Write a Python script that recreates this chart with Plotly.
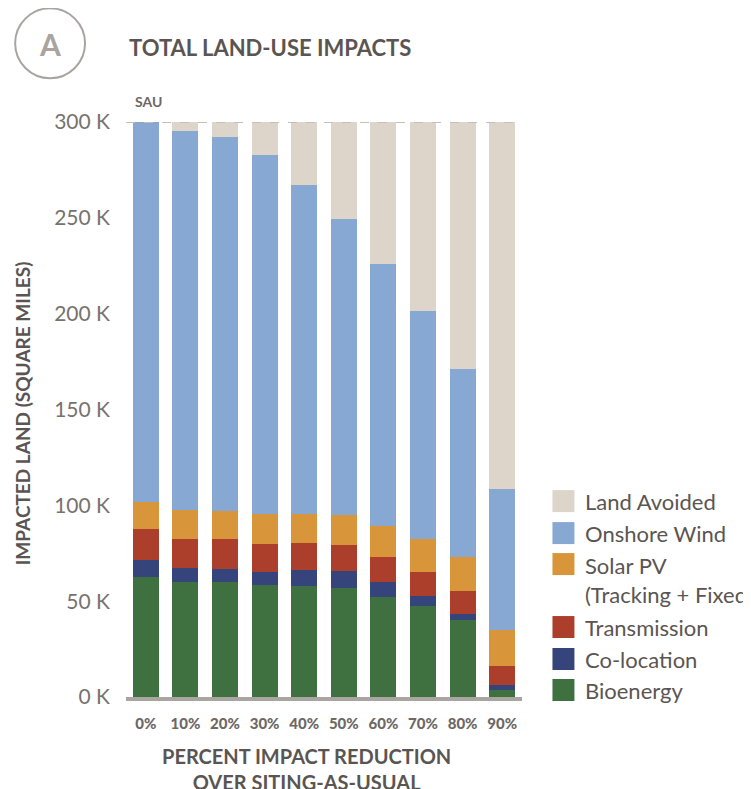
import plotly.graph_objects as go

categories = ["0%", "10%", "20%", "30%", "40%", "50%", "60%", "70%", "80%", "90%"]
bioenergy = [62.4, 60.1, 60.1, 58.4, 57.9, 56.7, 52.3, 47.4, 40.1, 3.6]
colocation = [9.0, 7.3, 6.6, 6.8, 8.5, 9.0, 7.7, 5.3, 3.3, 2.5]
transmission = [16.0, 15.1, 15.5, 14.6, 14.0, 13.7, 13.1, 12.5, 12.0, 10.1]
solar_pv = [14.1, 15.0, 14.8, 15.6, 15.0, 15.3, 16.1, 17.0, 17.7, 18.7]
onshore_wind = [198.5, 197.8, 195.3, 187.3, 171.5, 154.5, 136.9, 119.0, 97.9, 73.5]
total_sau = 300
land_avoided = [round(total_sau - (b + c + t + s + w), 1) for b, c, t, s, w in
                zip(bioenergy, colocation, transmission, solar_pv, onshore_wind)]

series_names = ["Bioenergy", "Co-location", "Transmission", "Solar PV", "Onshore Wind", "Land Avoided"]
series_values = [bioenergy, colocation, transmission, solar_pv, onshore_wind, land_avoided]
series_colors = ["#3e7040", "#35447a", "#ab3f2c", "#d9953a", "#86a8d3", "#ddd5ca"]
legend_labels = ["Land Avoided", "Onshore Wind", "Solar PV<br>(Tracking + Fixed)", "Transmission", "Co-location", "Bioenergy"]
legend_colors = ["#ddd5ca", "#86a8d3", "#d9953a", "#ab3f2c", "#35447a", "#3e7040"]

y_tickvals = [0, 50, 100, 150, 200, 250, 300]
y_ticktext = ["0 K", "50 K", "100 K", "150 K", "200 K", "250 K", "300 K"]

W, H = 751, 789
OFF = 8  # page body margin
L, R, T, B = 126, 522.5, 121.7, 697.0  # plot area in screen pixels

def xp(px):
    return (px - L) / (R - L)

def yp(py):
    return (B - py) / (B - T)

FONT = "Lato"
fig = go.Figure()
for name, vals, col in zip(series_names, series_values, series_colors):
    fig.add_trace(go.Bar(x=categories, y=vals, name=name, marker=dict(color=col, line=dict(width=0)),
                         showlegend=False))

fig.update_layout(
    barmode="stack", bargap=0.34,
    width=W, height=H, autosize=False,
    margin=dict(l=L - OFF, r=W - (R - OFF), t=T - OFF, b=H - (B - OFF), pad=0),
    plot_bgcolor="white", paper_bgcolor="white",
    font=dict(family=FONT, color="#6d6865"),
    xaxis=dict(showgrid=False, zeroline=False, showline=True, linecolor="#a9a6a2", linewidth=4,
               ticks="", tickfont=dict(size=15, color="#6d6865", family=FONT + " Black"),
               ticklabelstandoff=10),
    yaxis=dict(range=[0, 300], showgrid=False, zeroline=False, showline=False,
               tickvals=y_tickvals, ticktext=y_ticktext, tickfont=dict(size=21, color="#77726e"),
               ticklabelstandoff=15),
)

# dashed SAU reference line
fig.add_shape(type="line", xref="paper", yref="y", x0=0, x1=1, y0=total_sau, y1=total_sau,
              line=dict(color="#c4bfb7", width=2, dash="dash"), layer="above")

anns = []
anns.append(dict(text="<b>SAU</b>", x=xp(133), y=yp(101), xanchor="left", yanchor="middle",
                 font=dict(size=14, color="#6d6865")))
anns.append(dict(text="<b>TOTAL LAND-USE IMPACTS</b>", x=xp(127), y=yp(47), xanchor="left", yanchor="middle",
                 font=dict(size=22, color="#5a5552")))
anns.append(dict(text="<b>A</b>", x=xp(50), y=yp(44), xanchor="center", yanchor="middle",
                 font=dict(size=30, color="#a8a4a0")))
anns.append(dict(text="<b>IMPACTED LAND (SQUARE MILES)</b>", x=xp(22), y=yp(413), textangle=-90,
                 xanchor="center", yanchor="middle", font=dict(size=19, color="#5a5552")))
anns.append(dict(text="<b>PERCENT IMPACT REDUCTION<br>OVER SITING-AS-USUAL</b>", x=xp(307), y=yp(769),
                 xanchor="center", yanchor="middle", font=dict(size=20, color="#5a5552")))

legend_rows = [501, 533, 564, 627, 659, 690]
for lab, col, ry in zip(legend_labels, legend_colors, legend_rows):
    fig.add_shape(type="rect", xref="paper", yref="paper", x0=xp(553), x1=xp(575),
                  y0=yp(ry + 11), y1=yp(ry - 11), fillcolor=col, line=dict(width=0))
    yy = ry if "<br>" not in lab else ry + 15.5
    anns.append(dict(text=lab, x=xp(584), y=yp(yy), xanchor="left", yanchor="middle", align="left",
                     font=dict(size=22, color="#5a5552")))

for a in anns:
    a.update(xref="paper", yref="paper", showarrow=False)
fig.update_layout(annotations=anns)

fig.add_shape(type="circle", xref="paper", yref="paper", x0=xp(15), x1=xp(85), y0=yp(78), y1=yp(8),
              line=dict(color="#a8a4a0", width=2))

fig.write_html("out.html")
